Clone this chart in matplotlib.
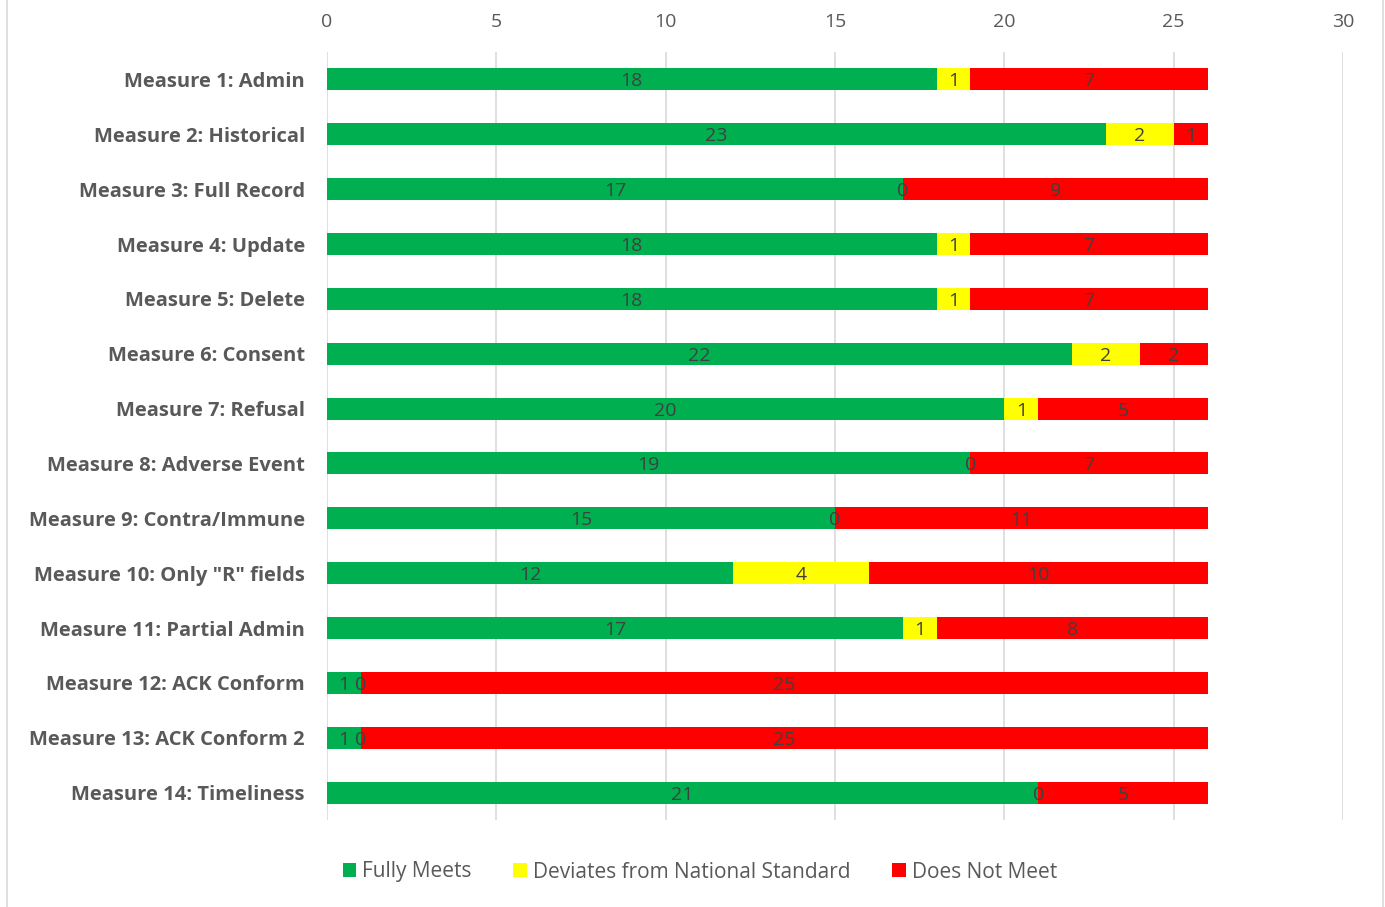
import numpy as np
import matplotlib.pyplot as plt
from matplotlib.patches import Rectangle

# Datos
medidas = [
    "Measure 1: Admin", "Measure 2: Historical", "Measure 3: Full Record",
    "Measure 4: Update", "Measure 5: Delete", "Measure 6: Consent",
    "Measure 7: Refusal", "Measure 8: Adverse Event", "Measure 9: Contra/Immune",
    'Measure 10: Only "R" fields', "Measure 11: Partial Admin",
    "Measure 12: ACK Conform", "Measure 13: ACK Conform 2", "Measure 14: Timeliness",
]
cumple = [18, 23, 17, 18, 18, 22, 20, 19, 15, 12, 17, 1, 1, 21]
desvia = [1, 2, 0, 1, 1, 2, 1, 0, 0, 4, 1, 0, 0, 0]
no_cumple = [7, 1, 9, 7, 7, 2, 5, 7, 11, 10, 8, 25, 25, 5]

series = ["Fully Meets", "Deviates from National Standard", "Does Not Meet"]
colores = ["#00B050", "#FFFF00", "#FF0000"]
ticks_x = [0, 5, 10, 15, 20, 25, 30]

plt.rcParams['font.family'] = ['Open Sans', 'DejaVu Sans']

fig = plt.figure(figsize=(13.85, 9.07), dpi=100)
ax = fig.add_axes([327 / 1385, 1 - 820 / 907, 1016 / 1385, 768 / 907])

# Marco del gráfico
fig.patches.append(Rectangle((7 / 1385, -0.01), 1376 / 1385, 1.1, transform=fig.transFigure,
                             fill=False, edgecolor="#D9D9D9", linewidth=1.2))

y = np.arange(len(medidas))
izq = np.zeros(len(medidas))
for vals, nombre, col in zip([cumple, desvia, no_cumple], series, colores):
    vals = np.array(vals)
    ax.barh(y, vals, left=izq, height=0.4, color=col, label=nombre, zorder=3)
    for yi, l, v in zip(y, izq, vals):
        ax.text(l + v / 2, yi, str(v), ha="center", va="center_baseline",
                fontsize=14, color="#404040", zorder=4)
    izq = izq + vals

ax.set_xlim(0, 30)
ax.set_ylim(len(medidas) - 0.5, -0.5)
ax.set_xticks(ticks_x)
ax.xaxis.tick_top()
ax.tick_params(axis="x", length=0, labelsize=14, labelcolor="#595959", pad=15)
ax.set_yticks(y)
ax.set_yticklabels(medidas, fontsize=14.5, fontweight="bold", color="#595959")
ax.tick_params(axis="y", length=0, pad=16)
ax.grid(axis="x", color="#D9D9D9", linewidth=1.2, zorder=0)
for s in ax.spines.values():
    s.set_visible(False)

fig.legend(loc="center", bbox_to_anchor=(700 / 1385, 1 - 872 / 907), ncol=3,
           frameon=False, fontsize=15, handlelength=0.65, handleheight=0.65,
           handletextpad=0.3, columnspacing=2.0, labelcolor="#595959")

fig.savefig("out.png", dpi=100)
